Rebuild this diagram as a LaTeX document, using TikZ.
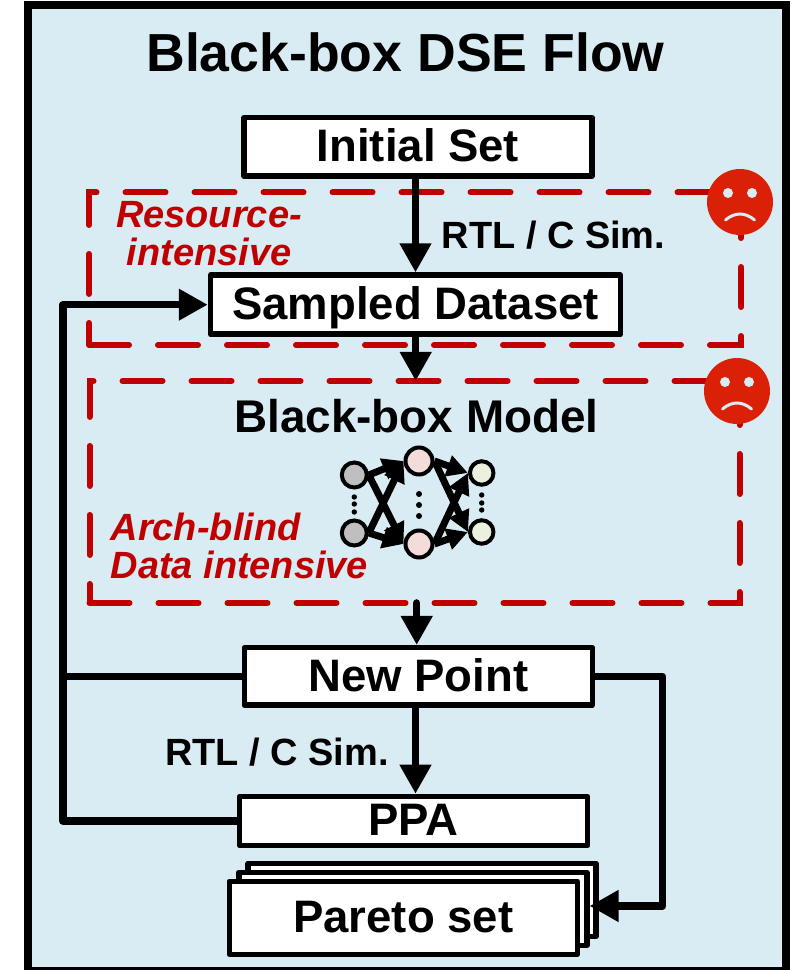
\documentclass[tikz,border=0pt]{standalone}
\usepackage{fontspec}
\setmainfont{Liberation Sans}
\usetikzlibrary{arrows.meta, positioning, calc}
\definecolor{dsepanel}{HTML}{DAECF3}
\definecolor{dsered}{HTML}{C00000}
\definecolor{dseface}{HTML}{DA2006}
\definecolor{nngray}{HTML}{BFBFBF}
\definecolor{nnpink}{HTML}{F4DCDB}
\definecolor{nngreen}{HTML}{EBF1DE}
\begin{document}
\begin{tikzpicture}[
    box/.style={
        rectangle,
        line join=round,
        draw=black,
        line width=0.055cm,
        fill=white,
        inner sep=0pt,
        text height=0.30cm,
        text depth=0cm,
        font=\fontsize{12.95}{15}\selectfont\bfseries,
        align=center
    },
    arrow/.style={
        -{Triangle[length=0.29cm,width=0.30cm]},
        line width=0.075cm,
        line join=round,
        black
    },
    nnarrow/.style={
        -{Triangle[length=0.21cm,width=0.21cm]},
        line width=0.07cm,
        black
    },
    neuron/.style={
        circle,
        draw=black,
        line width=0.04cm,
        inner sep=0pt,
        minimum size=#1
    },
    badbox/.style={
        rectangle,
        draw=dsered,
        line width=0.06cm,
        line cap=round,
        dash pattern=on 0.40cm off 0.29cm,
        inner sep=0pt,
        outer sep=0pt
    },
    note/.style={
        font=\fontsize{10.8}{13}\selectfont\bfseries\itshape,
        dsered,
        inner sep=0pt
    },
    simlabel/.style={
        font=\fontsize{10.8}{13}\selectfont\bfseries,
        inner sep=0pt
    },
    sadface/.style={
        circle,
        fill=dseface,
        minimum size=0.66cm,
        inner sep=0pt
    }
]
\useasboundingbox (0,0) rectangle (7.95,9.70);

% Panel
\node[rectangle, draw=black, line width=0.08cm, fill=dsepanel, minimum width=7.58cm, minimum height=9.66cm, inner sep=0pt] (panel) at (4.07,4.82) {};

% Title
\node[font=\fontsize{15.25}{18}\selectfont\bfseries, inner sep=0pt] (title) at (4.055,9.18) {Black-box DSE Flow};

% Dashed regions
\node[badbox, minimum width=6.52cm, minimum height=1.525cm] (costbox) at (4.15,7.0125) {};
\node[badbox, minimum width=6.50cm, minimum height=2.22cm] (modelbox) at (4.145,4.78) {};

% Flow boxes
\node[box, minimum width=3.48cm, minimum height=0.585cm] (initial) at (4.18,8.23) {Initial Set};
\node[box, minimum width=4.10cm, minimum height=0.59cm] (sampled) at (4.155,6.653) {Sampled Dataset};
\node[box, minimum width=3.48cm, minimum height=0.575cm] (newpoint) at (4.183,2.935) {New Point};
\node[box, minimum width=3.48cm, minimum height=0.49cm] (ppa) at (4.135,1.49) {PPA};

% Pareto stack
\node[box, minimum width=3.48cm, minimum height=0.73cm] (paretoback) at (4.22,0.70) {};
\node[box, minimum width=3.48cm, minimum height=0.73cm] (paretomid) at (4.128,0.612) {};
\node[box, minimum width=3.48cm, minimum height=0.73cm] (pareto) at (4.033,0.522) {Pareto set};

% Labels
\node[note, align=center] (costnote) at (2.09,7.365) {Resource-\\[-2pt]intensive};
\node[note, align=left, anchor=west] (blindnote) at (1.10,4.24) {Arch-blind\\[-2pt]Data intensive};
\node[simlabel] (simtop) at (5.535,7.35) {RTL / C Sim.};
\node[simlabel] (simbottom) at (2.77,2.18) {RTL / C Sim.};
\node[font=\fontsize{13.05}{15}\selectfont\bfseries, inner sep=0pt] (modeltitle) at (4.165,5.54) {Black-box Model};

% Sad faces
\node[sadface] (sadtop) at (7.40,7.68) {};
\node[sadface] (sadbottom) at (7.37,5.79) {};
\foreach \face in {sadtop, sadbottom} {
    \fill[dsepanel] ([shift={(-0.12,0.09)}]\face.center) circle (0.05);
    \fill[dsepanel] ([shift={(0.12,0.09)}]\face.center) circle (0.05);
    \draw[dsepanel, line width=0.03cm, line cap=round] ([shift={(-0.145,-0.18)}]\face.center) .. controls ([shift={(-0.05,-0.10)}]\face.center) and ([shift={(0.05,-0.10)}]\face.center) .. ([shift={(0.145,-0.18)}]\face.center);
}

% Network
\node[neuron=0.25cm, fill=nngray] (inone) at (3.543,4.95) {};
\node[neuron=0.25cm, fill=nngray] (intwo) at (3.543,4.37) {};
\node[neuron=0.27cm, fill=nnpink] (midone) at (4.19,5.09) {};
\node[neuron=0.27cm, fill=nnpink] (midtwo) at (4.19,4.26) {};
\node[neuron=0.235cm, fill=nngreen] (outone) at (4.817,4.97) {};
\node[neuron=0.235cm, fill=nngreen] (outtwo) at (4.817,4.38) {};
\foreach \a in {inone, intwo} {
    \foreach \b in {midone, midtwo} {
        \draw[nnarrow] (\a.east) -- (\b.west);
    }
}
\foreach \a in {midone, midtwo} {
    \foreach \b in {outone, outtwo} {
        \draw[nnarrow] (\a.east) -- (\b.west);
    }
}
\foreach \y in {4.73,4.66,4.58} {
    \fill (3.543,\y) circle (0.027);
}
\foreach \y in {4.75,4.67,4.60} {
    \fill (4.817,\y) circle (0.027);
}
\foreach \y in {4.76,4.65,4.54} {
    \fill (4.19,\y) circle (0.03);
}

% Arrows
\draw[arrow] (initial.south -| 4.155,0) -- (sampled.north -| 4.155,0);
\draw[arrow] (sampled.south -| 4.157,0) -- (modelbox.north -| 4.157,0);
\draw[arrow, line cap=round] (modelbox.south -| 4.167,0) -- (newpoint.north -| 4.167,0);
\draw[arrow] (newpoint.south -| 4.155,0) -- (ppa.north -| 4.155,0);
\draw[arrow] (ppa.west) -- (ppa.west -| 0.63,0) -- (sampled.west -| 0.63,0) -- (sampled.west);
\draw[line width=0.075cm] (newpoint.west) -- (newpoint.west -| 0.63,0);
\draw[arrow] (newpoint.east) -- (newpoint.east -| 6.627,0) -- ([yshift=0.028cm]paretomid.east -| 6.627,0) -- ([yshift=0.028cm]paretomid.east);

\end{tikzpicture}
\end{document}
